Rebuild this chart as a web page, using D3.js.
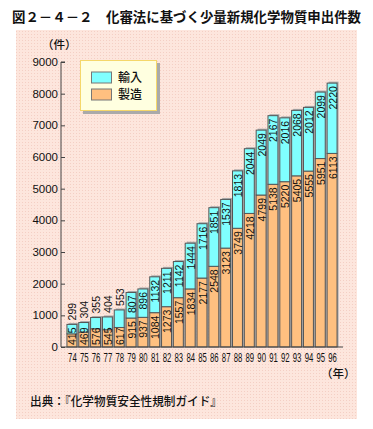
<!DOCTYPE html>
<html><head><meta charset="utf-8">
<script src="https://cdn.jsdelivr.net/npm/d3@7"></script>
<style>
html,body{margin:0;padding:0;background:#fff;}
svg{display:block;}
</style></head>
<body>
<script>
const years = ["74","75","76","77","78","79","80","81","82","83","84","85","86","87","88","89","90","91","92","93","94","95","96"];
const manufacture = [415,469,576,545,617,915,937,1084,1273,1557,1834,2177,2548,3123,3749,4218,4799,5138,5220,5405,5555,5951,6113];
const imports = [299,304,355,404,553,807,896,1132,1211,1142,1444,1716,1851,1537,1813,2044,2049,2167,2016,2068,2012,2099,2220];
const yTicks = [0,1000,2000,3000,4000,5000,6000,7000,8000,9000];
const seriesNames = ["輸入","製造"];
const title = "図２－４－２　化審法に基づく少量新規化学物質申出件数";
const source = "出典：『化学物質安全性規制ガイド』";

const W = 373, H = 429;
const jp = "'Noto Sans CJK JP', sans-serif";
const num = "'Liberation Sans', Arial, sans-serif";
const cImp = "#80ffff", cMan = "#ffc080", cStroke = "#555";

const svg = d3.select("body").append("svg").attr("width", W).attr("height", H);
const defs = svg.append("defs");
const pat = defs.append("pattern").attr("id","dots").attr("width",3).attr("height",3).attr("patternUnits","userSpaceOnUse");
pat.append("rect").attr("width",3).attr("height",3).attr("fill","#fde6dd");
pat.append("rect").attr("x",1).attr("y",1).attr("width",1).attr("height",1).attr("fill","#f4cfc4");

svg.append("rect").attr("x",16).attr("y",30).attr("width",341).attr("height",389).attr("fill","url(#dots)");

svg.append("text").attr("x",12).attr("y",22).attr("textLength",349).attr("lengthAdjust","spacingAndGlyphs")
  .attr("font-family",jp).attr("font-weight","bold").attr("font-size",13.4).attr("fill","#111").text(title);

const x = d3.scaleBand().domain(years).range([66,338]).paddingInner(0.16).paddingOuter(0.08);
const y = d3.scaleLinear().domain([0,9000]).range([347,62]);
const base = y(0);

// y axis
const yAxis = svg.append("g").attr("transform","translate(61,0)")
  .call(d3.axisRight(y).tickValues(yTicks).tickSize(4).tickFormat(""));
yAxis.select(".domain").attr("stroke","#444").attr("d",`M4,${y(9000)}H0V${base}`);
yAxis.selectAll(".tick line").attr("stroke","#444");
svg.append("g").selectAll("text").data(yTicks).join("text")
  .attr("x",58).attr("y",d=>y(d)).attr("dy","0.36em").attr("text-anchor","end")
  .attr("font-family",num).attr("font-size",11.5).attr("fill","#111").text(d=>d);

svg.append("text").attr("x",42).attr("y",49).attr("font-family",jp).attr("font-size",11.5).attr("font-weight",500).attr("fill","#111").text("（件）");

// bars
const g = svg.append("g");
const bw = x.bandwidth();
years.forEach((yr,i)=>{
  const x0 = x(yr);
  const m = manufacture[i], im = imports[i];
  const topM = y(m), topT = y(m+im);
  g.append("rect").attr("x",x0+1.5).attr("y",topT-1.5).attr("width",bw).attr("height",base-topT+1.5).attr("fill","#aaa");
  g.append("rect").attr("x",x0).attr("y",topM).attr("width",bw).attr("height",base-topM)
    .attr("fill",cMan).attr("stroke",cStroke).attr("stroke-width",1);
  g.append("rect").attr("x",x0).attr("y",topT).attr("width",bw).attr("height",topM-topT)
    .attr("fill",cImp).attr("stroke",cStroke).attr("stroke-width",1);
});

// labels
const fs = 10.5, digitW = 5.85;
const lab = svg.append("g").attr("font-family",num).attr("font-size",fs).attr("fill","#111");
years.forEach((yr,i)=>{
  const cx = x(yr) + bw/2 + 0.5;
  const m = manufacture[i], im = imports[i];
  const topM = y(m), topT = y(m+im);
  const Lm = String(m).length*digitW, Li = String(im).length*digitW;
  const tm = Math.min(topM+3, base-2-Lm);
  lab.append("text").attr("transform",`translate(${cx},${tm}) rotate(-90)`)
    .attr("text-anchor","end").attr("dominant-baseline","central").text(m);
  if (topM-topT >= Li+5) {
    lab.append("text").attr("transform",`translate(${cx},${topT+3}) rotate(-90)`)
      .attr("text-anchor","end").attr("dominant-baseline","central").text(im);
  } else {
    lab.append("text").attr("transform",`translate(${cx},${topT-4}) rotate(-90)`)
      .attr("text-anchor","start").attr("dominant-baseline","central").text(im);
  }
});

// x axis
const xAxis = svg.append("g").attr("transform",`translate(0,${base})`)
  .call(d3.axisBottom(x).tickSize(0).tickFormat(""));
xAxis.select(".domain").attr("stroke","#444").attr("d","M61,0H343");
svg.append("g").selectAll("text").data(years).join("text")
  .attr("transform",d=>`translate(${x(d)+bw/2+0.5},362) scale(0.62,1)`)
  .attr("text-anchor","middle").attr("font-family",num).attr("font-size",12.5).attr("fill","#111").text(d=>d);

svg.append("text").attr("x",321).attr("y",378).attr("font-family",jp).attr("font-size",11.5).attr("font-weight",500).attr("fill","#111").text("（年）");

// legend
const lg = svg.append("g");
lg.append("rect").attr("x",83).attr("y",63).attr("width",77).attr("height",51).attr("fill","#aaa");
lg.append("rect").attr("x",80.5).attr("y",60.5).attr("width",76).attr("height",50).attr("fill","#ffffe0").attr("stroke","#f5d76a");
const lcol = [cImp, cMan];
seriesNames.forEach((n,i)=>{
  lg.append("rect").attr("x",91.5).attr("y",72+i*17).attr("width",20).attr("height",11)
    .attr("fill",lcol[i]).attr("stroke","#777");
  lg.append("text").attr("x",118).attr("y",78+i*17).attr("dy","0.36em")
    .attr("font-family",jp).attr("font-size",12).attr("font-weight",500).attr("fill","#111").text(n);
});

svg.append("text").attr("x",30).attr("y",406).attr("textLength",192).attr("lengthAdjust","spacingAndGlyphs")
  .attr("font-family",jp).attr("font-size",12).attr("font-weight",500).attr("fill","#111").text(source);
</script>
</body></html>
